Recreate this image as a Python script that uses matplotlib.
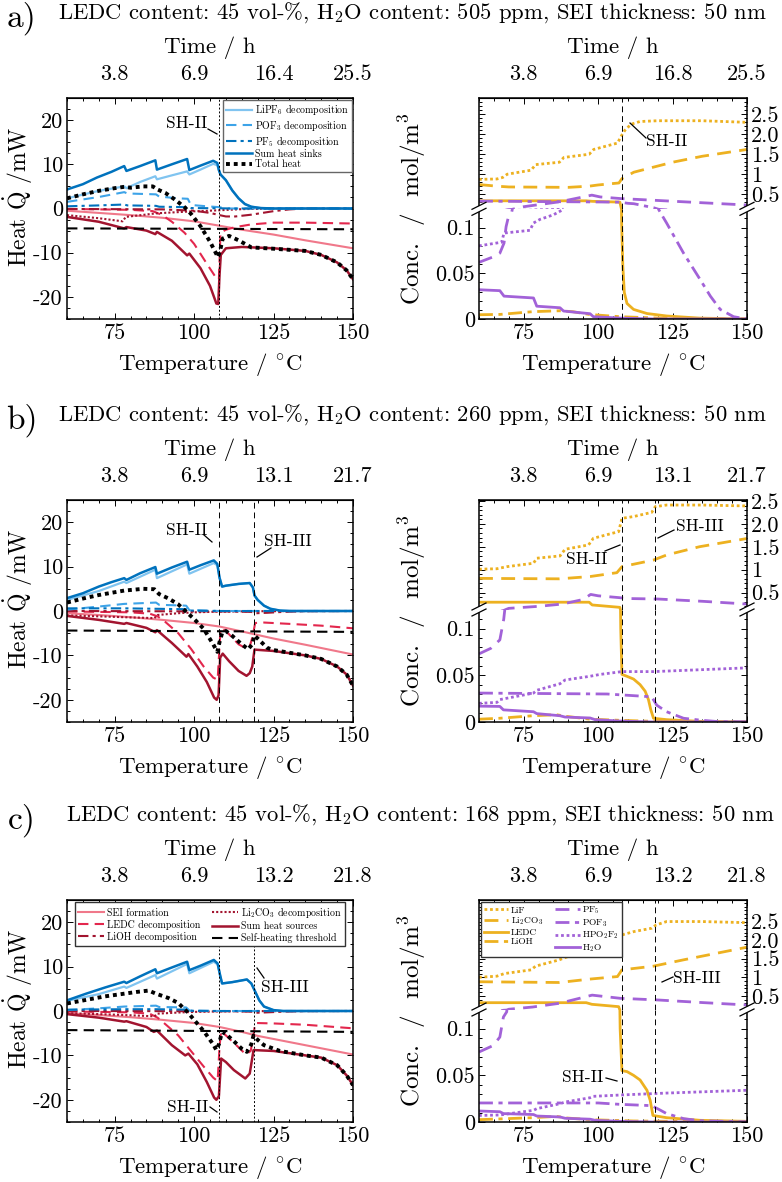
import matplotlib
matplotlib.use("Agg")
import matplotlib.pyplot as plt
from matplotlib.lines import Line2D
from matplotlib.patches import Polygon
from matplotlib.ticker import MultipleLocator

plt.rcParams.update({
    "font.family": "serif",
    "font.serif": ["cmr10"],
    "mathtext.fontset": "cm",
    "axes.unicode_minus": False,
})

# ---------------------------------------------------------------- data ----
titles = [
    r"LEDC content: 45 vol-%, H$_2$O content: 505 ppm, SEI thickness: 50 nm",
    r"LEDC content: 45 vol-%, H$_2$O content: 260 ppm, SEI thickness: 50 nm",
    r"LEDC content: 45 vol-%, H$_2$O content: 168 ppm, SEI thickness: 50 nm",
]
panel_tags = ["a)", "b)", "c)"]
temp_ticks = [75, 100, 125, 150]
time_labels_heat = [["3.8", "6.9", "16.4", "25.5"],
                    ["3.8", "6.9", "13.1", "21.7"],
                    ["3.8", "6.9", "13.2", "21.8"]]
time_labels_conc = [["3.8", "6.9", "16.8", "25.5"],
                    ["3.8", "6.9", "13.1", "21.7"],
                    ["3.8", "6.9", "13.2", "21.8"]]
sh_temps = [[107.9], [107.9, 119.0], [107.9, 119.0]]

# heat flows (temperature in degC, heat in mW) -- case a)
a_sei = [(60, -0.5), (70, -1.0), (80, -1.5), (90, -2.1), (100, -2.9), (108, -3.9),
         (115, -4.8), (125, -5.9), (135, -7.2), (150, -9.0)]
a_ledc = [(60, -0.1), (80, -0.3), (87, -0.6), (90, -1.5), (93, -3.0), (97, -5.5),
          (100, -8.0), (104, -12.5), (107.2, -16.0), (107.8, -16.0), (108.3, -5.5),
          (110, -4.8), (113, -4.2), (118, -3.6), (125, -3.2), (135, -3.2), (150, -3.4)]
a_lioh = [(60, -0.1), (90, -0.2), (100, -0.5), (105, -1.0), (108, -1.5), (110, -1.8),
          (113, -1.8), (118, -1.4), (125, -0.6), (130, -0.2), (135, 0.0), (150, 0.0)]
a_li2co3 = [(60, -1.5), (70, -2.2), (77.5, -2.9), (78.5, -1.9), (88, -1.1), (98, -0.7),
            (108, -0.4), (115, -0.15), (125, 0.0), (150, 0.0)]
a_sources = [(60, -1.9), (70, -3.0), (78, -4.5), (78.7, -4.2), (85, -5.0), (87.8, -5.8),
             (88.3, -5.3), (93, -7.3), (97.8, -10.6), (98.5, -10.2), (102, -13.5),
             (105, -17.5), (107, -21.5), (107.6, -21.6), (108, -15.0), (108.4, -10.5),
             (110, -9.0), (115, -8.7), (125, -9.0), (135, -9.6), (140, -10.5),
             (145, -12.2), (148, -14.0), (150, -16.0)]
a_threshold = [(60, -4.5), (150, -4.7)]
a_lipf6 = [(60, 2.3), (69.4, 3.9), (78, 5.0), (78.7, 4.6), (83, 6.0), (87.8, 7.3),
           (88.3, 6.6), (93, 7.5), (97.8, 8.4), (98.5, 7.7), (102, 8.8), (106, 10.1),
           (107.3, 9.8), (107.8, 8.6), (108.3, 7.7), (110, 6.4), (112, 4.1), (114, 2.3),
           (116, 1.0), (118, 0.4), (121, 0.1), (125, 0.0), (150, 0.0)]
a_pof3 = [(60, 1.5), (70, 2.6), (78, 3.7), (79, 3.4), (88, 3.2), (89, 2.7), (95, 2.3),
          (98, 2.2), (99, 0.8), (104, 0.5), (108, 0.3), (110, 0.0), (150, 0.0)]
a_pf5 = [(60, 0.5), (70, 0.7), (78, 0.9), (79, 0.7), (88, 0.6), (89, 0.4), (98, 0.3),
         (99, 0.1), (108, 0.05), (112, 0.0), (150, 0.0)]
a_sinks = [(60, 4.3), (65, 5.5), (69.4, 7.0), (74, 8.3), (78, 9.6), (78.7, 8.5),
           (83, 9.6), (87.8, 10.9), (88.3, 8.8), (93, 10.0), (97.8, 11.2), (98.5, 8.7),
           (102, 9.7), (106, 10.8), (107.3, 10.3), (107.8, 8.7), (108.3, 7.7), (110, 6.4),
           (112, 4.1), (114, 2.3), (116, 1.0), (118, 0.4), (121, 0.1), (125, 0.0),
           (150, 0.0)]
a_total = [(60, 2.3), (65, 3.2), (70, 4.0), (75, 4.6), (78, 4.9), (80, 4.7), (84, 5.0),
           (87, 5.0), (88.5, 4.3), (91, 3.5), (94, 2.0), (97, 0.3), (99, -1.2),
           (102, -4.0), (105, -7.5), (107.5, -11.0), (108.2, -9.5), (109, -6.8),
           (111, -6.2), (114, -7.2), (118, -8.8), (125, -9.1), (135, -9.6),
           (140, -10.5), (145, -12.2), (148, -14.0), (150, -16.0)]

# heat flows -- case b)
b_sei = [(60, -0.5), (70, -0.9), (80, -1.4), (90, -2.0), (100, -2.7), (108, -3.5),
         (115, -4.6), (120, -5.4), (125, -6.2), (135, -7.6), (150, -9.8)]
b_ledc = [(60, -0.1), (80, -0.3), (86, -0.6), (88.5, -1.2), (91, -2.5), (95, -5.0),
          (99, -8.5), (103, -12.5), (106, -15.0), (107.4, -15.5), (108, -8.0),
          (108.3, -4.0), (110, -4.5), (112, -6.0), (114, -7.5), (116.5, -8.5),
          (117.5, -8.0), (118.5, -5.5), (119.2, -2.7), (122, -2.6), (130, -2.9),
          (140, -3.3), (150, -3.9)]
b_lioh = [(60, 0.0), (110, -0.1), (118, -0.2), (119.5, -0.5), (123, -0.4), (128, -0.2),
          (135, -0.05), (150, 0.0)]
b_li2co3 = [(60, -1.0), (70, -1.2), (78, -1.4), (87.5, -1.6), (88.5, -0.9), (95, -0.5),
            (100, -0.3), (108, -0.15), (120, -0.05), (150, 0.0)]
b_sources = [(60, -1.1), (70, -2.0), (78, -2.9), (78.7, -2.7), (85, -3.8), (87.8, -4.8),
             (88.3, -4.3), (93, -7.2), (97.6, -10.3), (98.2, -9.7), (101, -12.5),
             (104, -16.0), (106.3, -19.5), (107.1, -20.0), (107.7, -19.0), (108.2, -10.5),
             (109, -9.6), (111, -11.3), (114, -13.5), (116.5, -14.6), (117.5, -14.0),
             (118.3, -12.5), (119, -8.7), (125, -9.0), (135, -10.0), (140, -10.8),
             (145, -12.5), (148, -14.3), (150, -16.8)]
b_threshold = [(60, -4.4), (150, -4.7)]
b_lipf6 = [(60, 2.5), (70, 4.5), (78, 6.6), (78.7, 6.3), (87.8, 9.3), (88.3, 7.4),
           (97.8, 10.5), (98.5, 8.4), (106.2, 10.8), (107.3, 10.3), (108, 7.5),
           (108.8, 5.5), (110, 5.7), (114, 6.1), (117.5, 6.3), (118.5, 5.3), (119, 3.5),
           (120, 2.5), (122, 1.2), (124, 0.5), (127, 0.1), (130, 0.0), (150, 0.0)]
b_pof3 = [(60, 0.3), (70, 1.0), (78, 1.6), (88, 1.9), (89, 1.4), (97.5, 1.2),
          (98.5, 0.2), (108, 0.0), (150, 0.0)]
b_pf5 = [(60, 0.6), (78, 0.6), (88, 0.5), (98, 0.4), (99, 0.1), (108, 0.0), (150, 0.0)]
b_sinks = [(60, 2.9), (65, 4.0), (70, 5.5), (74, 6.5), (78, 7.4), (78.7, 7.0), (83, 8.5),
           (87.8, 9.9), (88.3, 8.4), (93, 9.8), (97.8, 11.1), (98.5, 9.3), (102, 10.3),
           (106.2, 11.4), (107.3, 10.6), (108, 7.5), (108.8, 5.5), (110, 5.7), (114, 6.1),
           (117.5, 6.3), (118.5, 5.3), (119, 3.5), (120, 2.5), (122, 1.2), (124, 0.5),
           (127, 0.1), (130, 0.0), (150, 0.0)]
b_total = [(60, 1.9), (65, 2.8), (70, 3.6), (78, 4.6), (84, 5.0), (87.5, 4.9), (89, 3.8),
           (92, 2.8), (95, 1.5), (98, -0.5), (100, -1.8), (103, -4.0), (106, -7.5),
           (107.3, -9.2), (108, -7.0), (108.8, -5.0), (110, -4.5), (112, -5.6),
           (115, -7.5), (117, -8.6), (118.3, -7.5), (119, -5.5), (120, -6.2), (123, -8.3),
           (125, -8.8), (135, -10.0), (140, -10.8), (145, -12.5), (148, -14.3),
           (150, -16.8)]

# heat flows -- case c)
c_sei = [(60, -0.5), (70, -0.9), (80, -1.4), (90, -2.0), (100, -2.7), (108, -3.6),
         (115, -4.7), (120, -5.6), (125, -6.3), (135, -7.7), (150, -9.8)]
c_ledc = [(60, -0.1), (80, -0.3), (86, -0.6), (88.5, -1.5), (91, -3.0), (95, -5.5),
          (99, -9.0), (103, -12.5), (106, -15.0), (107.4, -15.8), (108, -8.0),
          (108.5, -4.5), (110, -5.5), (113, -7.5), (116.3, -9.8), (117.8, -9.0),
          (118.6, -6.0), (119.2, -2.7), (125, -2.8), (135, -3.1), (150, -3.9)]
c_lioh = [(60, 0.0), (112, -0.05), (118, -0.15), (119.5, -0.4), (123, -0.3),
          (128, -0.15), (135, -0.03), (150, 0.0)]
c_li2co3 = [(60, -0.5), (70, -0.7), (78, -0.9), (87.5, -1.2), (88.5, -0.6), (95, -0.35),
            (100, -0.2), (108, -0.1), (120, -0.03), (150, 0.0)]
c_sources = [(60, -0.7), (70, -1.5), (78, -2.4), (78.7, -2.3), (85, -3.6), (87.3, -4.7),
             (88.3, -4.4), (93, -7.7), (97.2, -10.0), (98.2, -9.6), (101, -12.0),
             (104, -16.0), (106.3, -19.5), (107, -20.0), (107.8, -19.2), (108.5, -10.7),
             (110, -11.5), (112.5, -13.3), (116.1, -15.2), (117.5, -14.1), (118.7, -8.8),
             (125, -9.0), (135, -10.0), (140, -10.5), (145, -12.2), (148, -14.5),
             (150, -16.7)]
c_threshold = [(60, -4.3), (150, -4.7)]
c_lipf6 = [(60, 2.3), (70, 3.8), (78, 5.5), (78.7, 5.2), (87.8, 8.1), (88.3, 7.3),
           (97.8, 10.6), (98.5, 8.5), (106.2, 11.1), (107.4, 10.5), (108.2, 8.0),
           (108.8, 6.2), (112, 6.5), (116.6, 7.1), (118, 6.2), (119, 4.7), (120.5, 2.4),
           (122, 1.0), (125, 0.2), (128, 0.0), (150, 0.0)]
c_pof3 = [(60, 0.2), (70, 0.6), (78, 1.0), (88, 1.2), (89, 0.9), (97.5, 0.8),
          (98.5, 0.1), (108, 0.0), (150, 0.0)]
c_pf5 = [(60, 0.3), (78, 0.4), (88, 0.4), (98, 0.3), (99, 0.05), (108, 0.0), (150, 0.0)]
c_sinks = [(60, 2.4), (66, 3.9), (72, 5.3), (78, 6.6), (78.7, 6.3), (83, 7.8), (87.8, 9.4),
           (88.3, 8.5), (93, 9.8), (97.8, 11.1), (98.5, 9.2), (102, 10.2), (106.2, 11.5),
           (107.4, 10.7), (108.2, 8.0), (108.8, 6.2), (112, 6.5), (116.6, 7.1), (118, 6.2),
           (119, 4.7), (120.5, 2.4), (122, 1.0), (125, 0.2), (128, 0.0), (150, 0.0)]
c_total = [(60, 1.7), (66, 2.5), (72, 3.3), (78, 3.9), (82, 4.3), (85.7, 4.6), (88, 3.9),
           (92, 2.9), (95, 1.8), (98, -0.3), (100, -2.0), (103, -4.5), (106, -7.5),
           (107, -8.8), (107.8, -7.5), (108.8, -4.7), (110, -5.2), (112.5, -6.8),
           (115, -8.5), (116.6, -9.2), (118, -7.5), (118.7, -5.5), (120, -6.5),
           (122, -7.7), (127, -9.0), (135, -10.0), (140, -10.5), (145, -12.2),
           (148, -14.5), (150, -16.7)]

# concentrations (mol/m^3) -- case a)
a_lif = [(60, 0.87), (66, 0.88), (68, 0.92), (69.5, 1.0), (77.5, 1.1), (79, 1.24),
         (87, 1.3), (88.5, 1.42), (97, 1.5), (98.5, 1.62), (106.5, 1.78), (107.8, 1.96),
         (109, 2.1), (111, 2.25), (114, 2.32), (120, 2.34), (135, 2.34), (150, 2.30)]
a_li2co3_c = [(60, 0.74), (66, 0.70), (70, 0.68), (90, 0.67), (97, 0.70), (100, 0.73),
              (107, 0.78), (108, 0.89), (112, 1.05), (125, 1.3), (135, 1.45), (150, 1.62)]
a_ledc_c = [(60, 0.333), (96, 0.333), (98, 0.32), (107.3, 0.30), (107.9, 0.105),
            (108.3, 0.058), (108.8, 0.029), (109.7, 0.017), (111.9, 0.0105),
            (116.4, 0.006), (123, 0.0033), (134, 0.001), (150, 0.0)]
a_lioh_c = [(60, 0.0047), (67, 0.005), (78, 0.008), (87, 0.009), (91.5, 0.008),
            (97, 0.005), (107.4, 0.0025), (123, 0.0007), (150, 0.0)]
a_pf5_c = [(60, 0.062), (64.8, 0.068), (67, 0.072), (68.4, 0.083), (69.1, 0.101),
           (69.9, 0.112), (71, 0.117), (75, 0.185), (87.2, 0.31), (97.9, 0.475),
           (100.7, 0.43), (107.4, 0.39), (123, 0.33), (150, 0.227)]
a_pof3_c = [(60, 0.325), (107.3, 0.30), (110, 0.27), (112, 0.26), (118.6, 0.16),
            (120.3, 0.12), (121, 0.116), (123, 0.105), (128.7, 0.072), (134.3, 0.043),
            (137.7, 0.025), (141, 0.0105), (145.5, 0.0025), (150, 0.0)]
a_hpo2f2 = [(60, 0.080), (67.6, 0.084), (68.4, 0.094), (77.1, 0.097), (78.3, 0.105),
            (80.5, 0.109), (85, 0.114), (88.4, 0.12)]
a_h2o = [(60, 0.032), (67, 0.031), (68.4, 0.025), (78.3, 0.023), (79.4, 0.014),
         (87.2, 0.0123), (88.4, 0.0087), (97.3, 0.0058), (98.4, 0.0025), (107.4, 0.001),
         (118.6, 0.0), (150, 0.0)]

# concentrations -- case b)
b_lif = [(60, 1.01), (66, 1.02), (69.3, 1.065), (78.3, 1.14), (79.4, 1.25), (87.2, 1.30),
         (88.9, 1.445), (96.8, 1.54), (98.4, 1.685), (106.9, 1.83), (108, 2.12),
         (112, 2.16), (118, 2.25), (119.2, 2.375), (123, 2.41), (135, 2.41), (150, 2.39)]
b_li2co3_c = [(60, 0.81), (87, 0.80), (97.3, 0.85), (106.3, 0.934), (108, 1.065),
              (118.6, 1.21), (123, 1.32), (134, 1.50), (150, 1.68)]
b_ledc_c = [(60, 0.29), (97, 0.29), (98, 0.23), (107.3, 0.178), (107.6, 0.10),
            (108.0, 0.051), (109.65, 0.049), (111.9, 0.046), (114.1, 0.040),
            (115.8, 0.033), (116.9, 0.024), (117.7, 0.013), (118.6, 0.004),
            (123, 0.0025), (134, 0.0007), (150, 0.0)]
b_lioh_c = [(60, 0.003), (67, 0.004), (78, 0.0067), (86, 0.0078), (89.4, 0.006),
            (97.3, 0.003), (107.4, 0.0018), (118.6, 0.0007), (150, 0.0)]
b_pf5_c = [(60, 0.073), (64, 0.079), (67, 0.088), (68.3, 0.110), (69, 0.13), (70, 0.156),
           (80, 0.2), (88, 0.25), (95, 0.35), (97.5, 0.46), (100, 0.43), (107, 0.39),
           (110, 0.37), (120, 0.36), (135, 0.31), (150, 0.25)]
b_pof3_c = [(60, 0.031), (103, 0.030), (118, 0.027), (119.7, 0.018), (123, 0.011),
            (128.7, 0.004), (134.3, 0.002), (140, 0.0005), (150, 0.0)]
b_hpo2f2 = [(60, 0.020), (66, 0.021), (67, 0.024), (78.3, 0.031), (79.4, 0.034),
            (87.2, 0.041), (88.9, 0.045), (97.3, 0.049), (100.7, 0.051), (108, 0.054),
            (118.6, 0.054), (150, 0.058)]
b_h2o = [(60, 0.017), (67, 0.0167), (68.2, 0.013), (78.3, 0.011), (79.4, 0.009),
         (87.2, 0.0067), (88.9, 0.0053), (97.3, 0.0043), (99, 0.0025), (107.4, 0.001),
         (118.6, 0.0), (150, 0.0)]

# concentrations -- case c)
c_lif = [(60, 1.0), (66, 1.03), (68.5, 1.1), (77.5, 1.2), (79, 1.3), (87, 1.47),
         (88.5, 1.52), (97, 1.74), (98.5, 1.81), (106.8, 1.87), (108, 2.14), (112, 2.23),
         (118, 2.32), (119.5, 2.41), (123, 2.5), (135, 2.5), (150, 2.47)]
c_li2co3_c = [(60, 0.88), (87, 0.86), (97, 0.95), (106.5, 1.02), (108, 1.2),
              (118.6, 1.3), (128.7, 1.47), (140, 1.65), (150, 1.81)]
c_ledc_c = [(60, 0.317), (96, 0.317), (97.9, 0.273), (106.9, 0.21), (107.4, 0.10),
            (108, 0.055), (109.7, 0.054), (111.9, 0.05), (114.1, 0.045), (116.4, 0.034),
            (117.5, 0.023), (118.4, 0.007), (123, 0.0046), (134.3, 0.0018),
            (150, 0.0007)]
c_lioh_c = [(60, 0.0025), (78, 0.0046), (86, 0.006), (89.4, 0.0043), (97.3, 0.0025),
            (111.9, 0.0011), (150, 0.0)]
c_pf5_c = [(60, 0.075), (64.8, 0.082), (67, 0.091), (68.2, 0.1125), (69.3, 0.118),
           (70, 0.14), (78, 0.2), (87, 0.3), (93, 0.42), (98, 0.52), (107.4, 0.435),
           (120, 0.39), (135, 0.32), (150, 0.255)]
c_pof3_c = [(60, 0.0204), (100, 0.0204), (106.9, 0.019), (118, 0.0175), (121, 0.0125),
            (123, 0.009), (128.7, 0.0036), (134.3, 0.0014), (150, 0.0)]
c_hpo2f2 = [(60, 0.007), (67, 0.0075), (78.3, 0.0125), (79.4, 0.0143), (87.2, 0.0196),
            (88.9, 0.0214), (97.3, 0.026), (98.4, 0.0275), (108, 0.029), (123, 0.031),
            (150, 0.034)]
c_h2o = [(60, 0.0118), (67, 0.011), (68.2, 0.009), (78.3, 0.008), (79.4, 0.0064),
         (87.2, 0.0054), (88.9, 0.004), (97.3, 0.003), (99, 0.0018), (107.4, 0.0007),
         (118.6, 0.0), (150, 0.0)]

conc_upper_top = [2.91, 2.52, 3.08]
conc_break = 0.12

# ------------------------------------------------------------- styling ----
W, H = 782, 1182
fig = plt.figure(figsize=(W / 100, H / 100), dpi=100)

BLUE = "#0072BD"
LBLUE = "#80C4F0"
MBLUE = "#3DA3E8"
RED = "#A2142F"
LRED = "#E3274D"
PINK = "#F0788A"
YEL = "#EDB120"
PUR = "#A262D8"
DASH = (0, (5, 3))
DOT = (0, (1, 1))
DASHDOT = (0, (5, 2, 1.5, 2))

heat_styles = [
    ("SEI formation", PINK, "-", 1.5),
    ("LEDC decomposition", LRED, DASH, 1.5),
    ("LiOH decomposition", RED, DASHDOT, 1.5),
    (r"Li$_2$CO$_3$ decomposition", RED, DOT, 1.5),
    ("Sum heat sources", RED, "-", 1.8),
    ("Self-heating threshold", "k", DASH, 1.5),
    (r"LiPF$_6$ decomposition", LBLUE, "-", 1.6),
    (r"POF$_3$ decomposition", MBLUE, DASH, 1.5),
    (r"PF$_5$ decomposition", BLUE, DASHDOT, 1.5),
    ("Sum heat sinks", BLUE, "-", 1.8),
    ("Total heat", "k", DOT, 2.8),
]
conc_styles = [
    ("LiF", YEL, DOT, 2.0),
    (r"Li$_2$CO$_3$", YEL, DASH, 2.0),
    ("LEDC", YEL, "-", 2.0),
    ("LiOH", YEL, DASHDOT, 2.0),
    (r"PF$_5$", PUR, DASH, 2.0),
    (r"POF$_3$", PUR, DASHDOT, 2.0),
    (r"HPO$_2$F$_2$", PUR, DOT, 2.0),
    (r"H$_2$O", PUR, "-", 2.0),
]
heat_sets = [
    [a_sei, a_ledc, a_lioh, a_li2co3, a_sources, a_threshold, a_lipf6, a_pof3, a_pf5,
     a_sinks, a_total],
    [b_sei, b_ledc, b_lioh, b_li2co3, b_sources, b_threshold, b_lipf6, b_pof3, b_pf5,
     b_sinks, b_total],
    [c_sei, c_ledc, c_lioh, c_li2co3, c_sources, c_threshold, c_lipf6, c_pof3, c_pf5,
     c_sinks, c_total],
]
conc_sets = [
    [a_lif, a_li2co3_c, a_ledc_c, a_lioh_c, a_pf5_c, a_pof3_c, a_hpo2f2, a_h2o],
    [b_lif, b_li2co3_c, b_ledc_c, b_lioh_c, b_pf5_c, b_pof3_c, b_hpo2f2, b_h2o],
    [c_lif, c_li2co3_c, c_ledc_c, c_lioh_c, c_pf5_c, c_pof3_c, c_hpo2f2, c_h2o],
]
sh_style = [[(0, (2, 2))], [(0, (6, 4)), (0, (6, 4))], [(0, (2, 2)), (0, (2, 2))]]

TICK_FS = 16
LABEL_FS = 16.5


def rect(x0, y0, x1, y1):
    return [x0 / W, 1 - y1 / H, (x1 - x0) / W, (y1 - y0) / H]


def fig_line(x0, y0, x1, y1, **kw):
    fig.add_artist(Line2D([x0 / W, x1 / W], [1 - y0 / H, 1 - y1 / H],
                          transform=fig.transFigure, **kw))


def fig_text(x, y, s, **kw):
    fig.text(x / W, 1 - y / H, s, **kw)


def style_ticks(ax):
    ax.tick_params(which="both", direction="in", top=True, right=True,
                   labelsize=TICK_FS, width=0.7)
    ax.tick_params(which="major", length=4.5, pad=3)
    ax.tick_params(which="minor", length=2.5)
    for s in ax.spines.values():
        s.set_linewidth(1.1)


def time_axis(ax, labels):
    sec = ax.secondary_xaxis("top")
    sec.set_xticks(temp_ticks)
    sec.set_xticklabels(labels)
    sec.tick_params(direction="in", length=0, labelsize=TICK_FS, pad=10)
    sec.set_xlabel("Time / h", fontsize=LABEL_FS, labelpad=8)
    return sec


row_boxes = [(98, 319), (500, 722), (900, 1122)]
conc_breaks = [209.3, 610, 1010]

for i in range(3):
    top, bot = row_boxes[i]
    # ---------------------------------------------------------- heat panel
    ax = fig.add_axes(rect(67, top, 353, bot))
    for pts, (lab, col, ls, lw) in zip(heat_sets[i], heat_styles):
        T, Q = zip(*pts)
        ax.plot(T, Q, color=col, ls=ls, lw=lw, label=lab)
    for t, ls in zip(sh_temps[i], sh_style[i]):
        ax.axvline(t, color="k", lw=0.7, ls=ls)
    ax.set_xlim(60, 150)
    ax.set_ylim(-25, 25)
    ax.set_xticks(temp_ticks)
    ax.set_xticklabels([str(v) for v in temp_ticks])
    ax.set_yticks([-20, -10, 0, 10, 20])
    ax.set_yticklabels(["-20", "-10", "0", "10", "20"])
    ax.xaxis.set_minor_locator(MultipleLocator(5))
    ax.yaxis.set_minor_locator(MultipleLocator(2.5))
    style_ticks(ax)
    ax.set_xlabel(r"Temperature / $^{\circ}$C", fontsize=LABEL_FS, labelpad=6)
    fig_text(18, (top + bot) / 2 - 12, r"Heat $\dot{\mathrm{Q}}$ /mW",
             fontsize=LABEL_FS + 0.5, rotation=90, ha="center", va="center")
    time_axis(ax, time_labels_heat[i])
    h, l = ax.get_legend_handles_labels()
    if i == 0:
        idx = [6, 7, 8, 9, 10]
        ax.legend([h[k] for k in idx], [l[k] for k in idx], loc="upper right",
                  fontsize=7.2, frameon=True, fancybox=False, edgecolor="0.4",
                  framealpha=1, handlelength=2.6, handletextpad=0.3,
                  borderpad=0.25, labelspacing=0.08, borderaxespad=0.15)
    if i == 2:
        idx = [0, 1, 2, 3, 4, 5]
        ax.legend([h[k] for k in idx], [l[k] for k in idx], loc="upper center",
                  ncol=2, fontsize=7.2, frameon=True, fancybox=False, edgecolor="0.2",
                  framealpha=1, handlelength=2.6, handletextpad=0.3, columnspacing=1.2,
                  borderpad=0.3, labelspacing=0.2, borderaxespad=0.15)

    # --------------------------------------------------- concentration panel
    brk = conc_breaks[i]
    lo = fig.add_axes(rect(479, brk, 747, bot))
    hi = fig.add_axes(rect(479, top, 747, brk))
    for pts, (lab, col, ls, lw) in zip(conc_sets[i], conc_styles):
        T, C = zip(*pts)
        lo.plot(T, C, color=col, ls=ls, lw=lw, label=lab)
        hi.plot(T, C, color=col, ls=ls, lw=lw, label=lab)
    for t in sh_temps[i]:
        for a_ in (lo, hi):
            a_.axvline(t, color="k", lw=0.7, ls=(0, (6, 4)))
    for a_ in (lo, hi):
        a_.set_xlim(60, 150)
        a_.xaxis.set_minor_locator(MultipleLocator(5))
        style_ticks(a_)
    lo.set_ylim(0, conc_break)
    hi.set_ylim(conc_break, conc_upper_top[i])
    lo.spines["top"].set_visible(False)
    hi.spines["bottom"].set_visible(False)
    lo.tick_params(which="both", top=False)
    hi.tick_params(which="both", bottom=False, labelbottom=False)
    lo.set_xticks(temp_ticks)
    lo.set_xticklabels([str(v) for v in temp_ticks])
    lo.set_yticks([0, 0.05, 0.1])
    lo.set_yticklabels(["0", "0.05", "0.1"])
    lo.yaxis.set_minor_locator(MultipleLocator(0.01))
    hi.set_yticks([0.5, 1.0, 1.5, 2.0, 2.5])
    hi.set_yticklabels(["0.5", "1", "1.5", "2.0", "2.5"])
    hi.yaxis.set_minor_locator(MultipleLocator(0.1))
    hi.tick_params(which="both", labelleft=False, labelright=True)
    hi.set_xticks(temp_ticks)
    lo.set_xlabel(r"Temperature / $^{\circ}$C", fontsize=LABEL_FS, labelpad=6)
    time_axis(hi, time_labels_conc[i])
    fig_text(412, (top + bot) / 2, r"Conc.  /  mol/m$^3$", fontsize=LABEL_FS + 1.5,
             rotation=90, ha="center", va="center")
    if i == 2:
        hh, ll = hi.get_legend_handles_labels()
        hi.legend(hh, ll, loc="upper left", ncol=2, fontsize=6.8, frameon=True,
                  fancybox=False, edgecolor="0.2", framealpha=1, handlelength=2.6,
                  handletextpad=0.3, columnspacing=1.2, borderpad=0.3,
                  labelspacing=0.1, borderaxespad=0.2)
    # axis break marks on both spines
    for xs in (479, 747):
        poly = [(xs - 7, brk + 6), (xs + 7, brk - 1), (xs + 7, brk - 7), (xs - 7, brk)]
        fig.add_artist(Polygon([(x / W, 1 - y / H) for x, y in poly], closed=True,
                               transform=fig.transFigure, facecolor="white",
                               edgecolor="none", zorder=5))
        fig_line(xs - 7, brk + 6, xs + 7, brk - 1, color="k", lw=0.9, zorder=6)
        fig_line(xs - 7, brk, xs + 7, brk - 7, color="k", lw=0.9, zorder=6)

    # row heading
    fig_text(22, top - 80, panel_tags[i], fontsize=24, ha="center", va="center")

fig_text(412, 13, titles[0], fontsize=16.3, ha="center", va="center")
fig_text(412, 415, titles[1], fontsize=16.3, ha="center", va="center")
fig_text(420, 815, titles[2], fontsize=16.3, ha="center", va="center")

# self-heating onset annotations
SH_FS = 12.5
notes = [
    (187, 123, "SH-II", (208, 129, 217, 134)),
    (667, 141, "SH-II", (630, 123, 646, 138)),
    (187, 530, "SH-II", (204, 535, 212, 542)),
    (288, 541, "SH-III", (257, 557, 271, 548)),
    (587, 559, "SH-II", (605, 551, 620, 545)),
    (700, 526, "SH-III", (658, 538, 674, 530)),
    (285, 987, "SH-III", (257, 968, 264, 978)),
    (188, 1107, "SH-II", (210, 1107, 217, 1112)),
    (697, 978, "SH-III", (662, 982, 673, 977)),
    (583, 1077, "SH-II", (606, 1078, 617, 1081)),
]
for x, y, s, seg in notes:
    fig_text(x, y, s, fontsize=SH_FS, ha="center", va="center")
    fig_line(*seg, color="k", lw=0.9)

fig.savefig("out.png", dpi=100)
